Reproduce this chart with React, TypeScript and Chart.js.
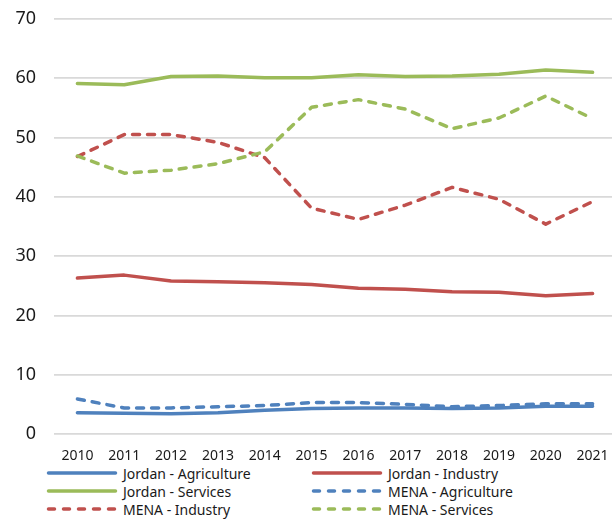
import React, { useEffect, useRef } from "react";
import { Chart, registerables } from "chart.js";

Chart.register(...registerables);

// Employment share by sector, Jordan vs. MENA (%)
const years = ["2010", "2011", "2012", "2013", "2014", "2015", "2016", "2017", "2018", "2019", "2020", "2021"];

const jordanAgriculture = [3.6, 3.5, 3.4, 3.6, 4.0, 4.3, 4.4, 4.4, 4.3, 4.4, 4.7, 4.7];
const jordanIndustry = [26.3, 26.8, 25.8, 25.7, 25.5, 25.2, 24.6, 24.4, 24.0, 23.9, 23.3, 23.7];
const jordanServices = [59.1, 58.9, 60.3, 60.4, 60.1, 60.1, 60.6, 60.3, 60.4, 60.7, 61.4, 61.0];
const menaAgriculture = [5.9, 4.4, 4.4, 4.6, 4.8, 5.3, 5.3, 5.0, 4.6, 4.8, 5.1, 5.1];
const menaIndustry = [46.8, 50.5, 50.5, 49.2, 46.6, 38.1, 36.2, 38.6, 41.6, 39.6, 35.4, 39.2];
const menaServices = [46.9, 44.0, 44.5, 45.6, 47.6, 55.1, 56.4, 54.8, 51.5, 53.3, 57.0, 53.2];

const yTicks = [0, 10, 20, 30, 40, 50, 60, 70];

const BLUE = "#4f81bd";
const RED = "#c0504d";
const GREEN = "#9bbb59";
const FONT = "'Noto Sans', sans-serif";
const DASH = [7, 8];

const series = [
  { label: "Jordan - Agriculture", data: jordanAgriculture, color: BLUE, dashed: false },
  { label: "Jordan - Industry", data: jordanIndustry, color: RED, dashed: false },
  { label: "Jordan - Services", data: jordanServices, color: GREEN, dashed: false },
  { label: "MENA - Agriculture", data: menaAgriculture, color: BLUE, dashed: true },
  { label: "MENA - Industry", data: menaIndustry, color: RED, dashed: true },
  { label: "MENA - Services", data: menaServices, color: GREEN, dashed: true },
];

function LegendItem({ s, x, y }: { s: (typeof series)[number]; x: number; y: number }) {
  return (
    <div style={{ position: "absolute", left: x, top: y - 9, height: 18, display: "flex", alignItems: "center" }}>
      <svg width={72} height={18} style={{ display: "block" }}>
        <line
          x1={2.5}
          y1={9}
          x2={69.5}
          y2={9}
          stroke={s.color}
          strokeWidth={3.5}
          strokeLinecap="round"
          strokeDasharray={s.dashed ? "6 9" : undefined}
        />
      </svg>
      <span style={{ marginLeft: 5, fontFamily: FONT, fontSize: 14, color: "#1a1a1a", whiteSpace: "nowrap" }}>
        {s.label}
      </span>
    </div>
  );
}

export default function App() {
  const canvasRef = useRef<HTMLCanvasElement | null>(null);

  useEffect(() => {
    if (!canvasRef.current) return;
    const chart = new Chart(canvasRef.current, {
      type: "line",
      data: {
        labels: years,
        datasets: series.map((s, i) => ({
          label: s.label,
          data: s.data,
          borderColor: s.color,
          backgroundColor: s.color,
          borderWidth: 3.5,
          borderDash: s.dashed ? DASH : [],
          borderCapStyle: "round" as const,
          borderJoinStyle: "round" as const,
          pointRadius: 0,
          pointHoverRadius: 0,
          tension: 0,
          fill: false,
          order: series.length - 1 - i,
        })),
      },
      options: {
        responsive: false,
        animation: false,
        layout: { padding: { top: 19, right: 0, bottom: 0, left: 0 } },
        plugins: {
          legend: { display: false },
          tooltip: { enabled: false },
          title: { display: false },
        },
        scales: {
          x: {
            offset: true,
            grid: { display: false },
            border: { display: false },
            ticks: {
              padding: 6,
              color: "#1a1a1a",
              font: { family: FONT, size: 14 },
              maxRotation: 0,
              autoSkip: false,
            },
            afterFit: (scale: any) => {
              scale.height = 30;
            },
          },
          y: {
            min: 0,
            max: 70,
            afterBuildTicks: (scale: any) => {
              scale.ticks = yTicks.map((v) => ({ value: v }));
            },
            grid: { color: "#d9d9d9", lineWidth: 1.8, drawTicks: false },
            border: { display: false },
            ticks: {
              padding: 18,
              color: "#1a1a1a",
              font: { family: FONT, size: 18 },
            },
            afterFit: (scale: any) => {
              scale.width = 54;
              scale.paddingTop = 0;
              scale.paddingBottom = 0;
            },
          },
        },
      },
    });
    return () => chart.destroy();
  }, []);

  return (
    <div style={{ position: "fixed", left: 0, top: 0, width: 612, height: 519, overflow: "hidden", background: "#fff" }}>
      <canvas ref={canvasRef} width={616} height={464} style={{ display: "block", width: 616, height: 464 }} />
      <LegendItem s={series[0]} x={46} y={473} />
      <LegendItem s={series[1]} x={311} y={473} />
      <LegendItem s={series[2]} x={46} y={491} />
      <LegendItem s={series[3]} x={311} y={491} />
      <LegendItem s={series[4]} x={46} y={509} />
      <LegendItem s={series[5]} x={311} y={509} />
    </div>
  );
}
